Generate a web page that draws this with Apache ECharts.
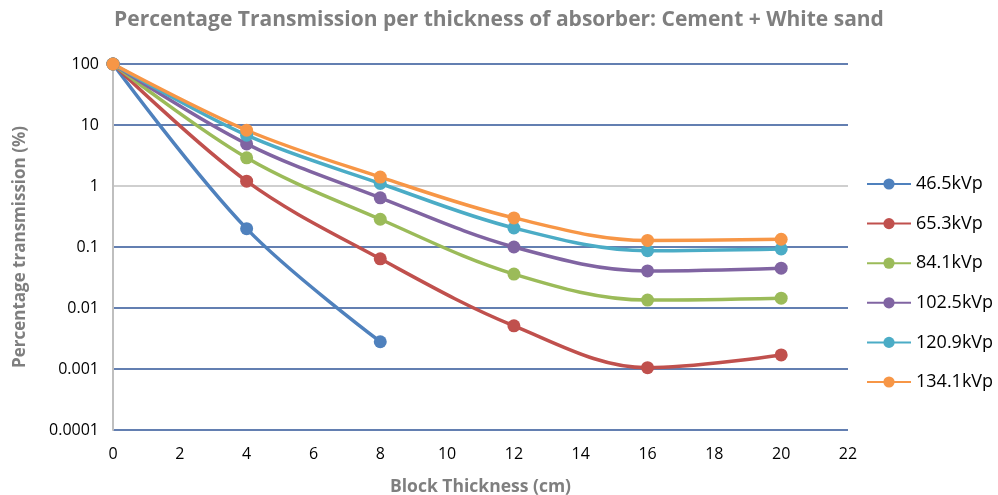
<!DOCTYPE html>
<html><head><meta charset="utf-8">
<script src="https://cdn.jsdelivr.net/npm/echarts@6/dist/echarts.min.js"></script>
<style>html,body{margin:0;padding:0;background:#fff}#c{width:998px;height:495px}</style>
</head><body><div id="c"></div>
<script>
const thickness = [0, 4, 8, 12, 16, 20];
const seriesNames = ['46.5kVp','65.3kVp','84.1kVp','102.5kVp','120.9kVp','134.1kVp'];
const s465 = [100, 0.2, 0.0028];
const s653 = [100, 1.2, 0.064, 0.0051, 0.00105, 0.0017];
const s841 = [100, 2.9, 0.285, 0.036, 0.0135, 0.0145];
const s1025 = [100, 4.9, 0.64, 0.1, 0.0405, 0.045];
const s1209 = [100, 6.8, 1.1, 0.205, 0.087, 0.093];
const s1341 = [100, 8.2, 1.4, 0.3, 0.128, 0.134];
const colors = ['#4F81BD','#C0504D','#9BBB59','#8064A2','#4BACC6','#F79646'];
const allData = [s465, s653, s841, s1025, s1209, s1341];
const FONT = '"Open Sans", sans-serif';

const chart = echarts.init(document.getElementById('c'));
chart.setOption({
  animation: false,
  color: colors,
  textStyle: {fontFamily: FONT},
  title: {
    text: 'Percentage Transmission per thickness of absorber: Cement + White sand',
    left: 'center', top: 5,
    textStyle: {fontFamily: FONT, fontSize: 21, fontWeight: 'bold', color: '#7F7F7F'}
  },
  legend: {
    orient: 'vertical', left: 861, top: 170, itemGap: 21.6,
    itemWidth: 44, itemHeight: 14,
    textStyle: {fontFamily: FONT, fontSize: 18, color: '#000'},
    data: seriesNames
  },
  grid: {left: 113, right: 150, top: 64, bottom: 65, containLabel: false, outerBoundsMode: 'none'},
  xAxis: {
    type: 'value', min: 0, max: 22, interval: 2,
    name: 'Block Thickness (cm)', nameLocation: 'middle', nameGap: 48,
    nameTextStyle: {fontFamily: FONT, fontSize: 17.5, fontWeight: 'bold', color: '#7F7F7F'},
    axisLine: {show: false}, axisTick: {show: false},
    axisLabel: {fontFamily: FONT, fontSize: 16, color: '#000', margin: 16},
    splitLine: {show: false}
  },
  yAxis: {
    type: 'log', logBase: 10, min: 0.0001, max: 100,
    name: 'Percentage transmission (%)', nameLocation: 'middle', nameGap: 84,
    nameTextStyle: {fontFamily: FONT, fontSize: 17, fontWeight: 'bold', color: '#7F7F7F'},
    axisLine: {show: true, lineStyle: {color: '#BFBFBF', width: 2}},
    axisTick: {show: false},
    axisLabel: {fontFamily: FONT, fontSize: 16, color: '#000', margin: 14,
      formatter: v => String(parseFloat(Number(v).toPrecision(6)))},
    splitLine: {show: true, lineStyle: {width: 1.5,
      color: ['#2F5597','#2F5597','#2F5597','#2F5597','#BFBFBF','#2F5597','#2F5597']}}
  },
  series: seriesNames.map((n, i) => ({
    name: n, type: 'line', smooth: 0.35,
    symbol: 'circle', symbolSize: 13,
    lineStyle: {width: 3.5},
    data: allData[i].map((v, j) => [thickness[j], v])
  }))
});
</script></body></html>
